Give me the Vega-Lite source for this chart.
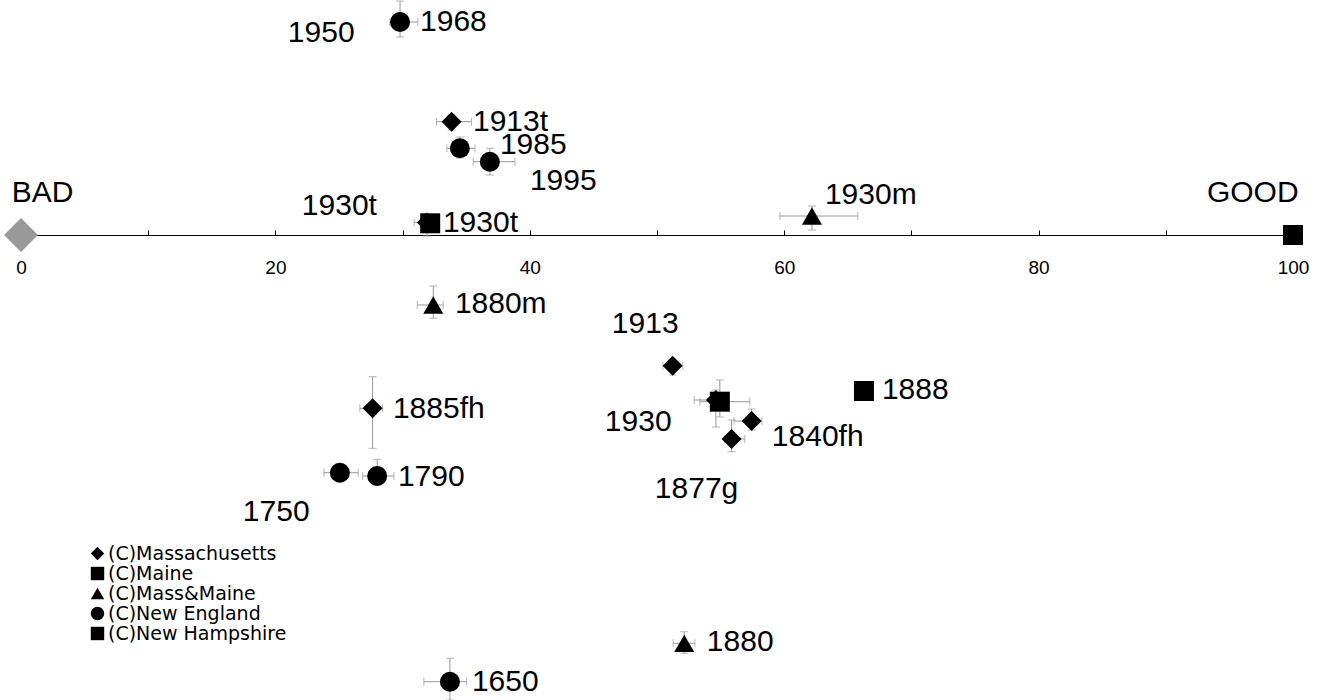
{
  "$schema": "https://vega.github.io/schema/vega-lite/v6.json",
  "width": 1272,
  "height": 700,
  "autosize": {"type": "none"},
  "padding": {"left": 21, "top": 0, "right": 39, "bottom": 0},
  "background": "white",
  "config": {"view": {"stroke": null}, "font": "Liberation Sans"},
  "datasets": {
    "points": [
      {"label": "1913t", "group": "(C)Massachusetts", "x": 33.85, "y": 11.33, "xlo": 32.67, "xhi": 35.42, "ylo": 10.5, "yhi": 12.0},
      {"label": "1930t", "group": "(C)Massachusetts", "x": 31.91, "y": 1.25, "xlo": 30.91, "xhi": 32.9, "ylo": -0.1, "yhi": 2.0},
      {"label": "1913", "group": "(C)Massachusetts", "x": 51.23, "y": -13.07, "xlo": 50.46, "xhi": 52.03, "ylo": -14.0, "yhi": -12.5},
      {"label": "1930", "group": "(C)Massachusetts", "x": 54.63, "y": -16.5, "xlo": 52.92, "xhi": 55.34, "ylo": -19.2, "yhi": -15.5},
      {"label": "1840fh", "group": "(C)Massachusetts", "x": 57.44, "y": -18.6, "xlo": 56.05, "xhi": 58.25, "ylo": -19.5, "yhi": -17.4},
      {"label": "1877g", "group": "(C)Massachusetts", "x": 55.86, "y": -20.4, "xlo": 55.3, "xhi": 56.9, "ylo": -21.67, "yhi": -18.5},
      {"label": "1885fh", "group": "(C)Massachusetts", "x": 27.64, "y": -17.33, "xlo": 26.64, "xhi": 28.43, "ylo": -21.33, "yhi": -14.17},
      {"label": "1930t", "group": "(C)Maine", "x": 32.17, "y": 1.17, "xlo": 31.6, "xhi": 32.8, "ylo": 0.6, "yhi": 1.7},
      {"label": "1930", "group": "(C)Maine", "x": 54.94, "y": -16.67, "xlo": 53.37, "xhi": 57.3, "ylo": -18.2, "yhi": -14.5},
      {"label": "1930m", "group": "(C)Mass&Maine", "x": 62.18, "y": 1.9, "xlo": 59.66, "xhi": 65.79, "ylo": 0.5, "yhi": 2.9},
      {"label": "1880m", "group": "(C)Mass&Maine", "x": 32.41, "y": -7.0, "xlo": 31.15, "xhi": 33.19, "ylo": -8.33, "yhi": -5.1},
      {"label": "1880", "group": "(C)Mass&Maine", "x": 52.14, "y": -40.83, "xlo": 51.27, "xhi": 52.98, "ylo": -41.83, "yhi": -39.67},
      {"label": "1968", "group": "(C)New England", "x": 29.8, "y": 21.3, "xlo": 29.0, "xhi": 31.2, "ylo": 19.8, "yhi": 23.4},
      {"label": "1985", "group": "(C)New England", "x": 34.5, "y": 8.67, "xlo": 33.48, "xhi": 35.69, "ylo": 7.7, "yhi": 9.8},
      {"label": "1995", "group": "(C)New England", "x": 36.86, "y": 7.33, "xlo": 35.55, "xhi": 38.83, "ylo": 6.0, "yhi": 8.67},
      {"label": "1750", "group": "(C)New England", "x": 25.07, "y": -23.77, "xlo": 23.81, "xhi": 26.51, "ylo": -24.5, "yhi": -23.0},
      {"label": "1790", "group": "(C)New England", "x": 28.0, "y": -24.1, "xlo": 26.86, "xhi": 29.32, "ylo": -25.0, "yhi": -22.43},
      {"label": "1650", "group": "(C)New England", "x": 33.72, "y": -44.67, "xlo": 31.67, "xhi": 35.03, "ylo": -46.5, "yhi": -42.33},
      {"label": "1888", "group": "(C)New Hampshire", "x": 66.27, "y": -15.6, "xlo": null, "xhi": null, "ylo": null, "yhi": null}
    ],
    "refs": [
      {"label": "BAD", "x": 0, "y": 0},
      {"label": "GOOD", "x": 100, "y": 0}
    ],
    "labels": [
      {"text": "1950", "x": 20.98, "y": 20.2},
      {"text": "1968", "x": 31.37, "y": 21.3},
      {"text": "1913t", "x": 35.53, "y": 11.3},
      {"text": "1985", "x": 37.65, "y": 9.0},
      {"text": "1995", "x": 40.01, "y": 5.4},
      {"text": "1930t", "x": 22.08, "y": 2.9},
      {"text": "1930t", "x": 33.17, "y": 1.2},
      {"text": "BAD", "x": -0.72, "y": 4.2},
      {"text": "GOOD", "x": 93.23, "y": 4.2},
      {"text": "1930m", "x": 63.2, "y": 4.0},
      {"text": "1880m", "x": 34.11, "y": -6.9},
      {"text": "1913", "x": 46.45, "y": -8.9},
      {"text": "1888", "x": 67.68, "y": -15.5},
      {"text": "1930", "x": 45.9, "y": -18.7},
      {"text": "1840fh", "x": 59.03, "y": -20.2},
      {"text": "1877g", "x": 49.83, "y": -25.4},
      {"text": "1885fh", "x": 29.24, "y": -17.4},
      {"text": "1790", "x": 29.63, "y": -24.2},
      {"text": "1750", "x": 17.44, "y": -27.7},
      {"text": "1880", "x": 53.92, "y": -40.7},
      {"text": "1650", "x": 35.45, "y": -44.7}
    ]
  },
  "encoding": {
    "x": {"type": "quantitative", "scale": {"domain": [0, 100], "nice": false, "zero": false}},
    "y": {"type": "quantitative", "scale": {"domain": [-46.5, 23.5], "nice": false, "zero": false}, "axis": null}
  },
  "layer": [
    {
      "data": {"name": "points"},
      "transform": [{"filter": "datum.xlo != null"}],
      "mark": {"type": "rule", "color": "#999999", "strokeWidth": 1},
      "encoding": {
        "x": {"field": "xlo", "type": "quantitative",
          "axis": {"orient": "bottom", "offset": -465, "title": null, "grid": false,
            "values": [0, 10, 20, 30, 40, 50, 60, 70, 80, 90, 100],
            "labelExpr": "datum.value % 20 === 0 ? datum.label : ''",
            "tickSize": -5, "tickColor": "black", "domainColor": "black", "domainWidth": 1,
            "labelPadding": 28, "labelFont": "Liberation Sans", "labelFontSize": 19, "labelColor": "black", "labelFlush": false}},
        "x2": {"field": "xhi"},
        "y": {"field": "y", "type": "quantitative"}
      }
    },
    {
      "data": {"name": "points"},
      "transform": [{"filter": "datum.ylo != null"}],
      "mark": {"type": "rule", "color": "#999999", "strokeWidth": 1},
      "encoding": {
        "x": {"field": "x", "type": "quantitative"},
        "y": {"field": "ylo", "type": "quantitative"},
        "y2": {"field": "yhi"}
      }
    },
    {
      "data": {"name": "points"},
      "transform": [{"filter": "datum.xlo != null"}],
      "mark": {"type": "tick", "orient": "vertical", "size": 8, "thickness": 1, "color": "#999999"},
      "encoding": {"x": {"field": "xlo", "type": "quantitative"}, "y": {"field": "y", "type": "quantitative"}}
    },
    {
      "data": {"name": "points"},
      "transform": [{"filter": "datum.xhi != null"}],
      "mark": {"type": "tick", "orient": "vertical", "size": 8, "thickness": 1, "color": "#999999"},
      "encoding": {"x": {"field": "xhi", "type": "quantitative"}, "y": {"field": "y", "type": "quantitative"}}
    },
    {
      "data": {"name": "points"},
      "transform": [{"filter": "datum.ylo != null"}],
      "mark": {"type": "tick", "orient": "horizontal", "size": 8, "thickness": 1, "color": "#999999"},
      "encoding": {"x": {"field": "x", "type": "quantitative"}, "y": {"field": "ylo", "type": "quantitative"}}
    },
    {
      "data": {"name": "points"},
      "transform": [{"filter": "datum.yhi != null"}],
      "mark": {"type": "tick", "orient": "horizontal", "size": 8, "thickness": 1, "color": "#999999"},
      "encoding": {"x": {"field": "x", "type": "quantitative"}, "y": {"field": "yhi", "type": "quantitative"}}
    },
    {
      "data": {"name": "points"},
      "mark": {"type": "point", "filled": true, "color": "black", "opacity": 1, "size": 400},
      "encoding": {
        "x": {"field": "x", "type": "quantitative"},
        "y": {"field": "y", "type": "quantitative"},
        "shape": {"field": "group", "type": "nominal",
          "scale": {"domain": ["(C)Massachusetts", "(C)Maine", "(C)Mass&Maine", "(C)New England", "(C)New Hampshire"],
                    "range": ["diamond", "square", "triangle-up", "circle", "square"]},
          "legend": {"title": null, "orient": "none", "legendX": 67, "legendY": 544, "padding": 0,
            "labelFont": "DejaVu Sans", "labelFontSize": 19, "labelColor": "black", "labelOffset": 1, "labelLimit": 0,
            "symbolSize": 180, "symbolFillColor": "black", "symbolStrokeColor": "black", "symbolStrokeWidth": 0,
            "rowPadding": 0, "symbolOpacity": 1}}
      }
    },
    {
      "data": {"name": "refs"},
      "transform": [{"filter": "datum.label === 'BAD'"}],
      "mark": {"type": "point", "filled": true, "shape": "diamond", "color": "#999999", "opacity": 1, "size": 1150},
      "encoding": {"x": {"field": "x", "type": "quantitative"}, "y": {"field": "y", "type": "quantitative"}}
    },
    {
      "data": {"name": "refs"},
      "transform": [{"filter": "datum.label === 'GOOD'"}],
      "mark": {"type": "point", "filled": true, "shape": "square", "color": "black", "opacity": 1, "size": 400},
      "encoding": {"x": {"field": "x", "type": "quantitative"}, "y": {"field": "y", "type": "quantitative"}}
    },
    {
      "data": {"name": "labels"},
      "mark": {"type": "text", "align": "left", "baseline": "middle", "font": "Liberation Sans", "fontSize": 30, "color": "black"},
      "encoding": {
        "x": {"field": "x", "type": "quantitative"},
        "y": {"field": "y", "type": "quantitative"},
        "text": {"field": "text"}
      }
    }
  ]
}
